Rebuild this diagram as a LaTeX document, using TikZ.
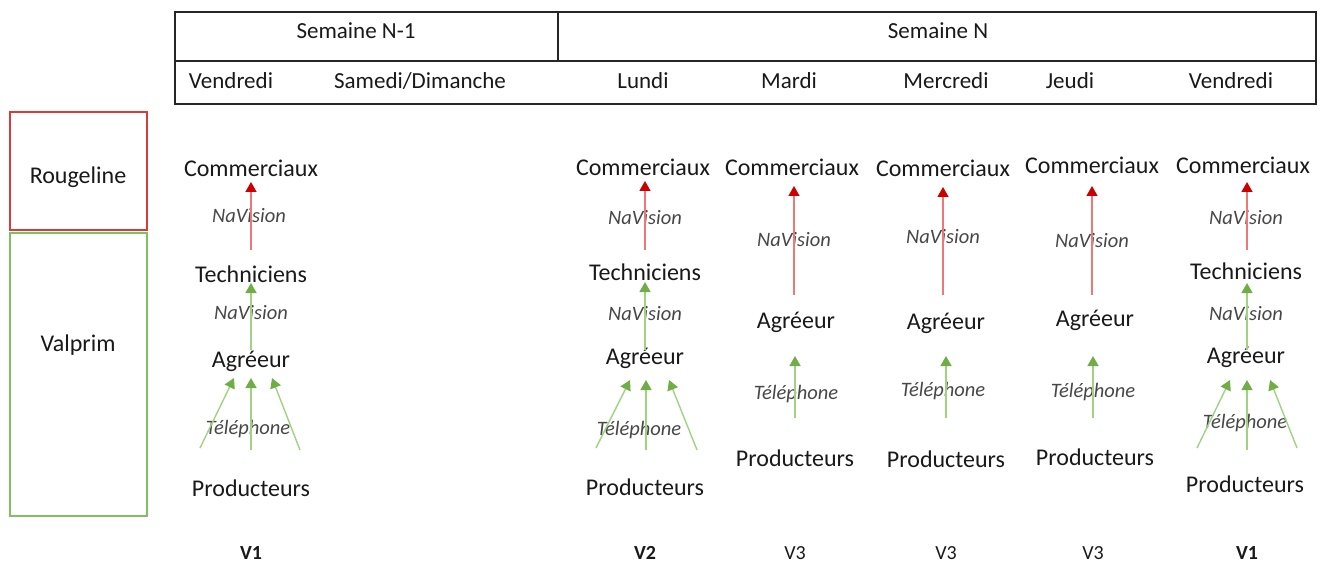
\documentclass[tikz,border=0pt]{standalone}
\usepackage{fontspec}
\setmainfont{Carlito}
\usetikzlibrary{arrows.meta}
\definecolor{redline}{RGB}{236,120,120}
\definecolor{redhead}{RGB}{205,0,0}
\definecolor{greenline}{RGB}{160,210,130}
\definecolor{greenhead}{RGB}{112,173,71}
\definecolor{redbox}{RGB}{215,60,60}
\definecolor{greenbox}{RGB}{130,190,100}
\definecolor{txt}{RGB}{25,25,25}
\tikzset{
  role/.style={text=txt,font=\fontsize{24}{28}\selectfont,inner sep=1pt},
  medium/.style={text=txt!80,font=\fontsize{20.5}{24}\selectfont\itshape,inner sep=1pt},
  hdr/.style={text=txt,font=\fontsize{23}{27}\selectfont,inner sep=1pt},
  ver/.style={text=txt,font=\fontsize{20}{24}\selectfont,inner sep=1pt},
  verb/.style={ver,font=\fontsize{20}{24}\selectfont\bfseries},
  redarrow/.style={draw=redline,line width=1.4pt,-{Triangle[length=10pt,width=11pt,color=redhead]}},
  greenarrow/.style={draw=greenline,line width=1.4pt,-{Triangle[length=10pt,width=11pt,color=greenhead]}},
  grid/.style={draw=black!85,line width=1.2pt}
}
\begin{document}
\begin{tikzpicture}[x=1pt,y=-1pt]
\useasboundingbox (0,0) rectangle (1327,569);
% header table
\draw[grid] (175,12) rectangle (1316,104);
\draw[grid] (175,61) -- (1316,61);
\draw[grid] (558,12) -- (558,61);
\node[hdr] (sn1) at (356,31) {Semaine N-1};
\node[hdr] (sn) at (938,31) {Semaine N};
\node[hdr] (d1) at (231,81) {Vendredi};
\node[hdr] (d2) at (420,81) {Samedi/Dimanche};
\node[hdr] (d3) at (643,81) {Lundi};
\node[hdr] (d4) at (789,81) {Mardi};
\node[hdr] (d5) at (946,81) {Mercredi};
\node[hdr] (d6) at (1070,81) {Jeudi};
\node[hdr] (d7) at (1231,81) {Vendredi};
% left boxes
\draw[draw=redbox,line width=1.2pt] (10,112) rectangle (147,230);
\draw[draw=greenbox,line width=1.2pt] (10,233) rectangle (147,516);
\node[role] (rg) at (78,177) {Rougeline};
\node[role] (vp) at (78,345) {Valprim};

% ---- column 1 (x=251)
\node[role] (c1com) at (251,168) {Commerciaux};
\node[role] (c1tec) at (251,274) {Techniciens};
\node[role] (c1agr) at (251,361) {Agréeur};
\node[role] (c1pro) at (251,488) {Producteurs};
\node[medium] (c1n1) at (249,216) {NaVision};
\node[medium] (c1n2) at (251,313) {NaVision};
\node[medium] (c1t) at (248,429) {Téléphone};
\coordinate (c1a) at (251,250); \coordinate (c1b) at (251,182);
\coordinate (c1c) at (251,350); \coordinate (c1d) at (251,283);
\coordinate (c1e) at (200,448); \coordinate (c1f) at (234,378);
\coordinate (c1g) at (251,450); \coordinate (c1h) at (251,378);
\coordinate (c1i) at (300,450); \coordinate (c1j) at (272,378);
\draw[redarrow] (c1a) -- (c1b);
\draw[greenarrow] (c1c) -- (c1d);
\draw[greenarrow] (c1e) -- (c1f);
\draw[greenarrow] (c1g) -- (c1h);
\draw[greenarrow] (c1i) -- (c1j);

% ---- column 2 (x=645)
\node[role] (c2com) at (643,167) {Commerciaux};
\node[role] (c2tec) at (645,272) {Techniciens};
\node[role] (c2agr) at (645,358) {Agréeur};
\node[role] (c2pro) at (645,487) {Producteurs};
\node[medium] (c2n1) at (645,218) {NaVision};
\node[medium] (c2n2) at (645,314) {NaVision};
\node[medium] (c2t) at (639,430) {Téléphone};
\coordinate (c2a) at (645,250); \coordinate (c2b) at (645,181);
\coordinate (c2c) at (645,350); \coordinate (c2d) at (645,282);
\coordinate (c2e) at (596,448); \coordinate (c2f) at (630,380);
\coordinate (c2g) at (646,450); \coordinate (c2h) at (646,380);
\coordinate (c2i) at (697,450); \coordinate (c2j) at (669,380);
\draw[redarrow] (c2a) -- (c2b);
\draw[greenarrow] (c2c) -- (c2d);
\draw[greenarrow] (c2e) -- (c2f);
\draw[greenarrow] (c2g) -- (c2h);
\draw[greenarrow] (c2i) -- (c2j);

% ---- column 3 (x=794)
\node[role] (c3com) at (792,167) {Commerciaux};
\node[role] (c3agr) at (796,322) {Agréeur};
\node[role] (c3pro) at (795,458) {Producteurs};
\node[medium] (c3n1) at (794,240) {NaVision};
\node[medium] (c3t) at (796,394) {Téléphone};
\coordinate (c3a) at (794,295); \coordinate (c3b) at (794,186);
\coordinate (c3c) at (795,418); \coordinate (c3d) at (795,356);
\draw[redarrow] (c3a) -- (c3b);
\draw[greenarrow] (c3c) -- (c3d);

% ---- column 4 (x=943)
\node[role] (c4com) at (943,168) {Commerciaux};
\node[role] (c4agr) at (946,323) {Agréeur};
\node[role] (c4pro) at (946,459) {Producteurs};
\node[medium] (c4n1) at (943,237) {NaVision};
\node[medium] (c4t) at (943,391) {Téléphone};
\coordinate (c4a) at (943,295); \coordinate (c4b) at (943,187);
\coordinate (c4c) at (946,418); \coordinate (c4d) at (946,356);
\draw[redarrow] (c4a) -- (c4b);
\draw[greenarrow] (c4c) -- (c4d);

% ---- column 5 (x=1093)
\node[role] (c5com) at (1092,165) {Commerciaux};
\node[role] (c5agr) at (1095,320) {Agréeur};
\node[role] (c5pro) at (1095,457) {Producteurs};
\node[medium] (c5n1) at (1092,241) {NaVision};
\node[medium] (c5t) at (1093,392) {Téléphone};
\coordinate (c5a) at (1092,295); \coordinate (c5b) at (1092,186);
\coordinate (c5c) at (1093,418); \coordinate (c5d) at (1093,356);
\draw[redarrow] (c5a) -- (c5b);
\draw[greenarrow] (c5c) -- (c5d);

% ---- column 6 (x=1247)
\node[role] (c6com) at (1243,165) {Commerciaux};
\node[role] (c6tec) at (1246,271) {Techniciens};
\node[role] (c6agr) at (1246,357) {Agréeur};
\node[role] (c6pro) at (1245,484) {Producteurs};
\node[medium] (c6n1) at (1246,218) {NaVision};
\node[medium] (c6n2) at (1246,314) {NaVision};
\node[medium] (c6t) at (1245,423) {Téléphone};
\coordinate (c6a) at (1247,250); \coordinate (c6b) at (1247,182);
\coordinate (c6c) at (1247,350); \coordinate (c6d) at (1247,283);
\coordinate (c6e) at (1197,448); \coordinate (c6f) at (1230,380);
\coordinate (c6g) at (1247,450); \coordinate (c6h) at (1247,380);
\coordinate (c6i) at (1297,448); \coordinate (c6j) at (1270,380);
\draw[redarrow] (c6a) -- (c6b);
\draw[greenarrow] (c6c) -- (c6d);
\draw[greenarrow] (c6e) -- (c6f);
\draw[greenarrow] (c6g) -- (c6h);
\draw[greenarrow] (c6i) -- (c6j);

% versions
\node[verb] (v1) at (251,553) {V1};
\node[verb] (v2) at (645,553) {V2};
\node[ver] (v3a) at (795,553) {V3};
\node[ver] (v3b) at (946,553) {V3};
\node[ver] (v3c) at (1093,553) {V3};
\node[verb] (v4) at (1247,553) {V1};
\end{tikzpicture}
\end{document}
